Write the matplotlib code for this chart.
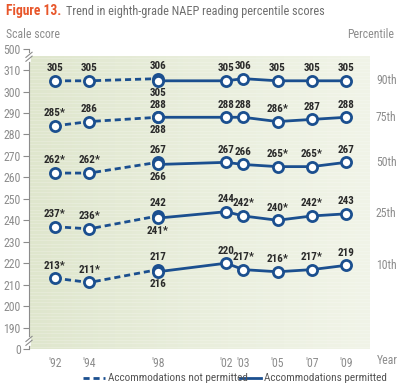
import matplotlib
matplotlib.use("Agg")
import matplotlib.pyplot as plt
import numpy as np
from matplotlib.lines import Line2D
from matplotlib.colors import LinearSegmentedColormap
from matplotlib.transforms import blended_transform_factory

FONT = ['Roboto Condensed', 'DejaVu Sans']
plt.rcParams['font.family'] = FONT

percentiles = ['90th', '75th', '50th', '25th', '10th']
years_np = [1992, 1994, 1998]
years_p = [1998, 2002, 2003, 2005, 2007, 2009]
year_ticks = [1992, 1994, 1998, 2002, 2003, 2005, 2007, 2009]
year_labels = ["'92", "'94", "'98", "'02", "'03", "'05", "'07", "'09"]

vals_np = {
    '90th': [305, 305, 306],
    '75th': [284, 286, 288],
    '50th': [262, 262, 267],
    '25th': [237, 236, 242],
    '10th': [213, 211, 217],
}
labels_np = {
    '90th': ['305', '305', '306'],
    '75th': ['285*', '286', '288'],
    '50th': ['262*', '262*', '267'],
    '25th': ['237*', '236*', '242'],
    '10th': ['213*', '211*', '217'],
}
vals_p = {
    '90th': [305, 305, 306, 305, 305, 305],
    '75th': [288, 288, 288, 286, 287, 288],
    '50th': [266, 267, 266, 265, 265, 267],
    '25th': [241, 244, 242, 240, 242, 243],
    '10th': [216, 220, 217, 216, 217, 219],
}
labels_p = {
    '90th': ['305', '305', '306', '305', '305', '305'],
    '75th': ['288', '288', '288', '286*', '287', '288'],
    '50th': ['266', '267', '266', '265*', '265*', '267'],
    '25th': ['241*', '244', '242*', '240*', '242*', '243'],
    '10th': ['216', '220', '217*', '216*', '217*', '219'],
}
ytick_vals = [180, 190, 200, 210, 220, 230, 240, 250, 260, 270, 280, 290, 300, 310, 320]
ytick_labels = ['0', '190', '200', '210', '220', '230', '240', '250', '260', '270',
                '280', '290', '300', '310', '500']

BLUE = '#1b4f8f'
GREY = '#8c8c8c'
DARK = '#2a2a2a'

fig = plt.figure(figsize=(4.0, 3.88), dpi=100)
ax = fig.add_axes([0.0725, 0.1005, 0.8525, 0.7742])
ax.set_xlim(1990.48, 2010.40)
ax.set_ylim(180, 320)

# background gradient
cmap = LinearSegmentedColormap.from_list('bg', ['#dfe6cd', '#e9eedc', '#f1f4e8'])
grad = np.linspace(0, 1, 256).reshape(1, -1)
ax.imshow(grad, extent=[1990.48, 2010.40, 180, 316.5], aspect='auto', cmap=cmap,
          zorder=0, interpolation='bicubic')
for yy in np.arange(181, 316.5, 1.6):
    ax.axhline(yy, color='white', lw=0.4, alpha=0.35, zorder=0.5)
ax.set_facecolor('white')

pct_tr = blended_transform_factory(fig.transFigure, ax.transData)

for pc in percentiles:
    ax.plot(years_np, vals_np[pc], color=BLUE, lw=2.0, ls=(0, (2.2, 1.4)), zorder=2,
            marker='o', ms=7.3, mfc='white', mec=BLUE, mew=2.0)
    ax.plot(years_p, vals_p[pc], color=BLUE, lw=2.0, ls='-', zorder=3,
            marker='o', ms=7.3, mfc='white', mec=BLUE, mew=2.0)
    for x, v, t in zip(years_np, vals_np[pc], labels_np[pc]):
        ax.annotate(t, (x, v), xytext=(0, 5.5), textcoords='offset points', ha='center',
                    va='bottom', fontsize=8, fontweight='bold', color=DARK, zorder=5)
    for i, (x, v, t) in enumerate(zip(years_p, vals_p[pc], labels_p[pc])):
        if i == 0:
            ax.annotate(t, (x, v), xytext=(0, -5.5), textcoords='offset points', ha='center',
                        va='top', fontsize=8, fontweight='bold', color=DARK, zorder=5)
        else:
            ax.annotate(t, (x, v), xytext=(0, 5.5), textcoords='offset points', ha='center',
                        va='bottom', fontsize=8, fontweight='bold', color=DARK, zorder=5)
    ax.text(376 / 400, vals_p[pc][-1], pc, transform=pct_tr, ha='left', va='center',
            fontsize=8.5, color=GREY, clip_on=False)

ax.set_yticks(ytick_vals)
ax.set_yticklabels(ytick_labels, fontsize=8.5, color=GREY)
ax.set_xticks(year_ticks)
ax.set_xticklabels(year_labels, fontsize=8.5, color=GREY)
ax.tick_params(axis='y', length=4, width=0.8, color=GREY, pad=2)
ax.tick_params(axis='x', length=0, pad=6)
for s in ['top', 'right', 'bottom']:
    ax.spines[s].set_visible(False)
ax.spines['left'].set_color(GREY)
ax.spines['left'].set_linewidth(0.8)

# axis breaks
for yb in [316.2, 183.8]:
    ax.plot([1990.48, 1990.48], [yb - 1.3, yb + 1.3], color='white', lw=2.0,
            clip_on=False, zorder=5.5)
    for dy in [-0.9, 0.9]:
        ax.plot([1990.30, 1990.66], [yb + dy - 1.2, yb + dy + 1.2], color=GREY, lw=0.8,
                clip_on=False, zorder=6)

fig.text(6 / 400, 1 - 35 / 388, 'Scale score', fontsize=8.5, color=GREY, ha='left', va='center')
fig.text(394 / 400, 1 - 35 / 388, 'Percentile', fontsize=8.5, color=GREY, ha='right', va='center')
fig.text(377 / 400, 1 - 360 / 388, 'Year', fontsize=8.5, color=GREY, ha='left', va='center')

fig.text(6 / 400, 1 - 11 / 388, 'Figure 13.', fontsize=9.8, color='#e8562a',
         fontweight='bold', ha='left', va='center')
fig.text(66 / 400, 1 - 11 / 388, 'Trend in eighth-grade NAEP reading percentile scores',
         fontsize=8.8, color='#6e6e6e', ha='left', va='center')

# legend
ly = 1 - 378 / 388
fig.add_artist(Line2D([83 / 400, 105 / 400], [ly, ly], color=BLUE, lw=2.0, ls=(0, (2.2, 1.4))))
fig.text(108 / 400, ly, 'Accommodations not permitted', fontsize=8.1, color='#555555',
         ha='left', va='center')
fig.add_artist(Line2D([240 / 400, 261 / 400], [ly, ly], color=BLUE, lw=2.0))
fig.text(264 / 400, ly, 'Accommodations permitted', fontsize=8.1, color='#555555',
         ha='left', va='center')

fig.savefig('out.png', dpi=100)
